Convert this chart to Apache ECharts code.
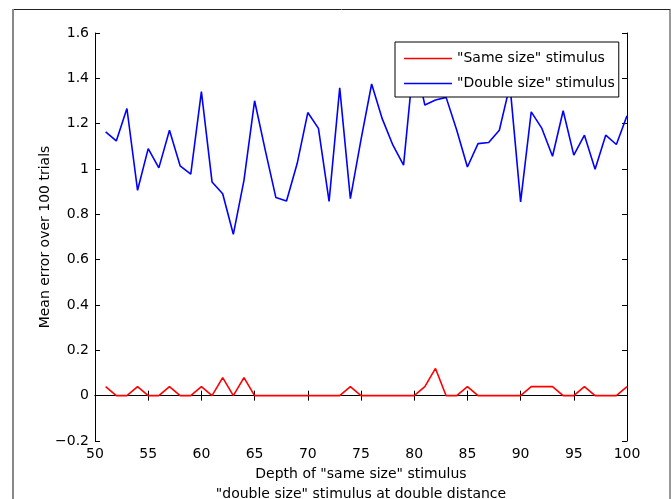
<!DOCTYPE html>
<html>
<head>
<meta charset="utf-8">
<script src="https://cdn.jsdelivr.net/npm/echarts@6/dist/echarts.min.js"></script>
<style>html,body{margin:0;padding:0;background:#fff}#c{width:671px;height:499px}</style>
</head>
<body>
<div id="c"></div>
<script>
// Depth of "same size" stimulus (x values)
const depths = [51,52,53,54,55,56,57,58,59,60,61,62,63,64,65,66,67,68,69,70,71,72,73,74,75,76,77,78,79,80,81,82,83,84,85,86,87,88,89,90,91,92,93,94,95,96,97,98,99,100];
// "Same size" stimulus mean error
const sameSize = [0.04,0,0,0.04,0,0,0.04,0,0,0.04,0,0.08,0,0.08,0,0,0,0,0,0,0,0,0,0.04,0,0,0,0,0,0,0.04,0.12,0,0,0.04,0,0,0,0,0,0.04,0.04,0.04,0,0,0.04,0,0,0,0.04];
// "Double size" stimulus mean error
const doubleSize = [1.164,1.124,1.267,0.906,1.09,1.005,1.171,1.014,0.977,1.341,0.943,0.891,0.712,0.95,1.301,1.083,0.874,0.859,1.024,1.249,1.179,0.857,1.358,0.869,1.13,1.375,1.221,1.105,1.017,1.5,1.282,1.304,1.316,1.171,1.009,1.112,1.117,1.171,1.37,0.855,1.252,1.179,1.056,1.257,1.061,1.149,0.999,1.149,1.108,1.235];
const seriesNames = ['"Same size" stimulus', '"Double size" stimulus'];
const xTitle = 'Depth of "same size" stimulus\n"double size" stimulus at double distance';
const yTitle = 'Mean error over 100 trials';

const FONT = 'DejaVu Sans';
const chart = echarts.init(document.getElementById('c'), null, {renderer: 'canvas'});
const pair = arr => depths.map((d, i) => [d, arr[i]]);
const yFmt = v => { const r = Math.round(v * 10) / 10; return String(r).replace('-', '\u2212'); };
const axisCommon = {
  axisLine: {show: true, lineStyle: {color: '#000', width: 1}},
  axisTick: {show: true, inside: true, length: 5, lineStyle: {color: '#000'}},
  splitLine: {show: false}
};
chart.setOption({
  animation: false,
  backgroundColor: '#fff',
  textStyle: {fontFamily: FONT},
  graphic: [
    {type: 'line', shape: {x1: 13, y1: 9.5, x2: 670, y2: 9.5}, style: {stroke: '#222', lineWidth: 1}, z: 0},
    {type: 'line', shape: {x1: 13, y1: 9, x2: 13, y2: 499}, style: {stroke: '#888', lineWidth: 2}, z: 0},
    {type: 'line', shape: {x1: 670, y1: 9, x2: 670, y2: 499}, style: {stroke: '#333', lineWidth: 1}, z: 0}
  ],
  grid: {left: 95, right: 44, top: 33, bottom: 58, containLabel: false, outerBoundsMode: 'none'},
  legend: {
    data: seriesNames,
    orient: 'vertical',
    left: 395, top: 42,
    backgroundColor: '#fff',
    borderColor: '#000', borderWidth: 1, borderRadius: 0,
    padding: [8, 4, 5, 9],
    icon: 'rect',
    itemWidth: 48, itemHeight: 1.6, itemGap: 8,
    textStyle: {fontFamily: FONT, fontSize: 14, color: '#000', lineHeight: 17},
    z: 10
  },
  xAxis: [
    Object.assign({}, axisCommon, {
      type: 'value', min: 50, max: 100, interval: 5, position: 'bottom',
      name: xTitle, nameLocation: 'middle', nameGap: 23, nameMoveOverlap: false,
      nameTextStyle: {fontFamily: FONT, fontSize: 14, color: '#000', lineHeight: 20},
      axisLabel: {fontFamily: FONT, fontSize: 14, color: '#000', margin: 6}
    }),
    Object.assign({}, axisCommon, {
      type: 'value', min: 50, max: 100, interval: 5, position: 'top',
      axisLabel: {show: false}
    })
  ],
  yAxis: [
    Object.assign({}, axisCommon, {
      type: 'value', min: -0.2, max: 1.6, interval: 0.2, position: 'left',
      name: yTitle, nameLocation: 'middle', nameGap: 43, nameMoveOverlap: false,
      nameTextStyle: {fontFamily: FONT, fontSize: 14, color: '#000'},
      axisLabel: {fontFamily: FONT, fontSize: 14, color: '#000', margin: 6, formatter: yFmt}
    }),
    Object.assign({}, axisCommon, {
      type: 'value', min: -0.2, max: 1.6, interval: 0.2, position: 'right',
      axisLabel: {show: false}
    })
  ],
  series: [
    {name: seriesNames[0], type: 'line', data: pair(sameSize), symbol: 'none', color: '#ff0000',
     lineStyle: {color: '#ff0000', width: 1.6}, z: 3},
    {name: seriesNames[1], type: 'line', data: pair(doubleSize), symbol: 'none', color: '#0000ff',
     lineStyle: {color: '#0000ff', width: 1.6}, z: 3}
  ]
});
</script>
</body>
</html>
